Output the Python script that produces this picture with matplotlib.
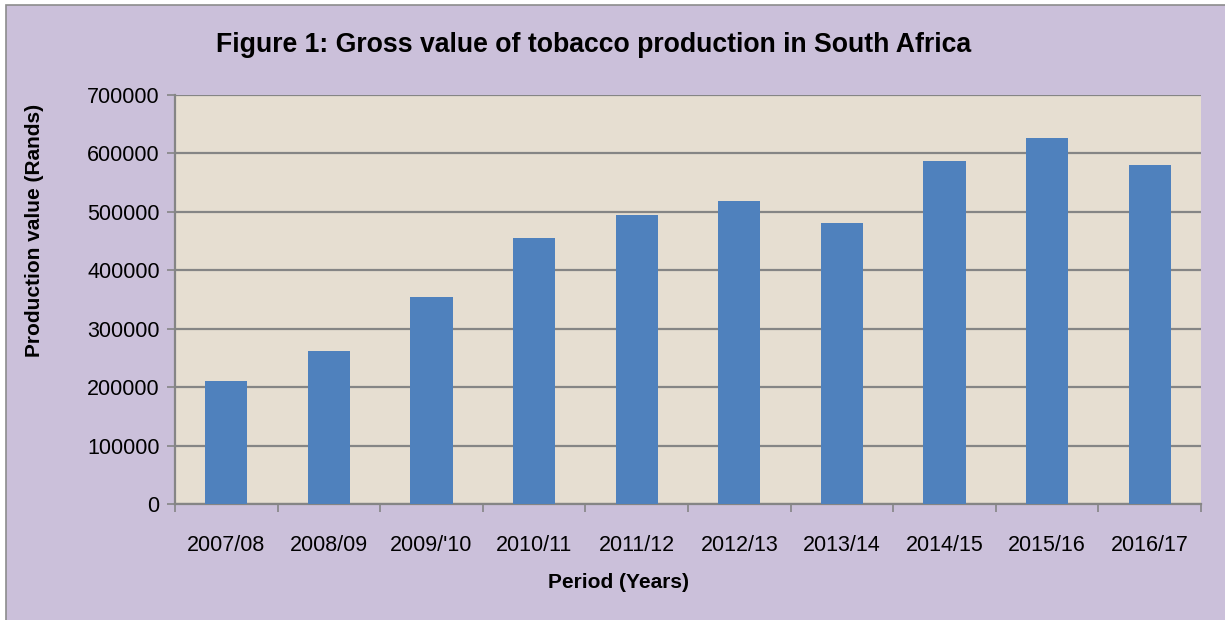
import matplotlib
matplotlib.use("Agg")
import matplotlib.pyplot as plt
from matplotlib.patches import Rectangle
import numpy as np

categories = ["2007/08", "2008/09", "2009/'10", "2010/11", "2011/12",
              "2012/13", "2013/14", "2014/15", "2015/16", "2016/17"]
values = [210500, 262000, 354000, 455000, 495000,
          519000, 481000, 587000, 626000, 580000]
yticks = [0, 100000, 200000, 300000, 400000, 500000, 600000, 700000]

W, H = 1225, 620
fig = plt.figure(figsize=(W / 100, H / 100), dpi=100, facecolor="white")
font = ["Liberation Sans", "DejaVu Sans"]

# lavender chart area with grey border
bg = Rectangle((6 / W, -0.01), 1 - 6 / W + 0.01, 1 - 5 / H + 0.01,
               transform=fig.transFigure, facecolor="#CBC0DA",
               edgecolor="#8C8C8C", linewidth=1.2, zorder=-10)
fig.add_artist(bg)

ax = fig.add_axes([175 / W, 1 - 504 / H, (1201 - 175) / W, (504 - 95) / H])
ax.set_zorder(5)
ax.set_facecolor("#E6DED1")
x = np.arange(len(categories))
ax.bar(x, values, width=0.41, color="#4F81BD", zorder=3)
ax.set_xlim(-0.5, len(categories) - 0.5)
ax.set_ylim(0, 700000)
ax.set_yticks(yticks)
ax.set_yticklabels([str(v) for v in yticks], family=font, fontsize=15.5)
ax.yaxis.grid(True, color="#858585", linewidth=1.6, zorder=1)
ax.set_axisbelow(True)

ax.set_xticks(x)
ax.set_xticklabels(categories, family=font, fontsize=15.5)
ax.set_xticks(np.arange(-0.5, len(categories)), minor=True)
ax.tick_params(axis="x", which="major", length=0, pad=22)
ax.tick_params(axis="x", which="minor", length=6, color="#858585", width=1.2)
ax.tick_params(axis="y", length=6, color="#858585", width=1.2, pad=5)

for s in ["top", "right"]:
    ax.spines[s].set_visible(False)
for s in ["left", "bottom"]:
    ax.spines[s].set_color("#858585")
    ax.spines[s].set_linewidth(1.6)

fig.text(594 / W, 1 - 45 / H, "Figure 1: Gross value of tobacco production in South Africa",
         ha="center", va="center", family=font, fontsize=19.2, fontweight="bold")
fig.text(618 / W, 1 - 582 / H, "Period (Years)", ha="center", va="center",
         family=font, fontsize=15, fontweight="bold")
fig.text(35 / W, 1 - 230 / H, "Production value (Rands)", ha="center", va="center",
         rotation=90, family=font, fontsize=15, fontweight="bold")

fig.savefig("out.png", dpi=100, facecolor=fig.get_facecolor())
